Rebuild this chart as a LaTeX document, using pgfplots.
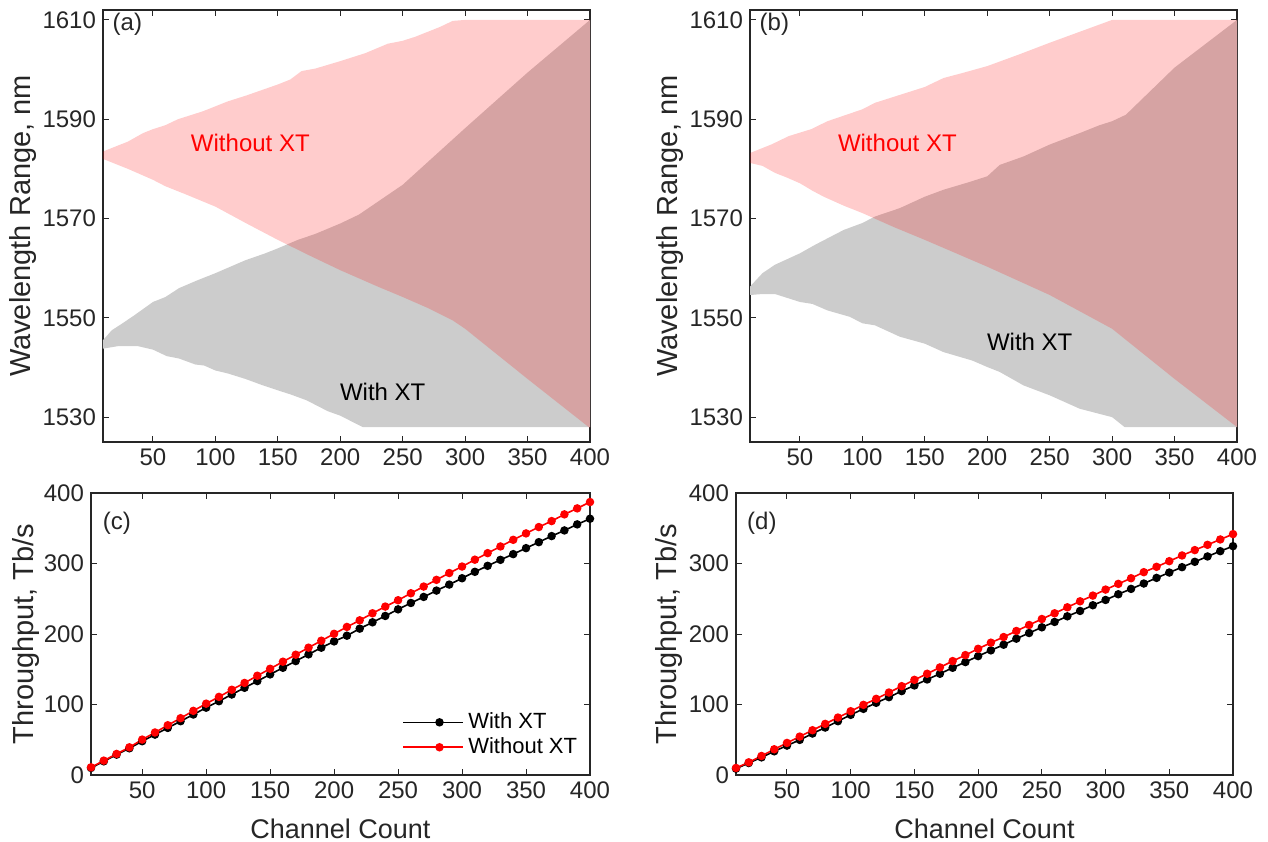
\documentclass[border=0pt]{standalone}
\usepackage{fontspec}
\setmainfont{Liberation Sans}
\usepackage{pgfplots}
\pgfplotsset{compat=1.18}

\definecolor{axgray}{HTML}{262626}
\definecolor{xtgray}{HTML}{CCCCCC}

\pgfplotsset{
  panel/.style={
    scale only axis, anchor=south west,
    xmin=10, xmax=400, xtick={50,100,...,400},
    tick align=inside, major tick length=3pt,
    ticklabel style={font=\fontsize{12}{14}\selectfont, text=axgray},
    xlabel style={font=\fontsize{13.5}{15}\selectfont, text=axgray},
    ylabel style={font=\fontsize{14.5}{16}\selectfont, text=axgray},
    /pgf/number format/assume math mode=true,
    /pgf/number format/1000 sep={},
    axis line style={axgray, line width=0.6pt},
    every tick/.style={axgray, line width=0.5pt},
  },
  tput/.style={
    panel, ymin=0, ymax=400, ytick={0,100,...,400},
    xlabel={Channel Count},
    xlabel style={at={(axis description cs:0.5,-0.19)}, anchor=center},
    ylabel={Throughput, Tb/s},
  },
  wl/.style={
    panel, ymin=1525, ymax=1612, ytick={1530,1550,...,1610},
    ylabel={Wavelength Range, nm},
    ylabel style={at={(axis description cs:-0.164,0.5)}, anchor=center},
  },
  withxt/.style={black, line width=0.8pt, mark=*, mark size=1.7pt},
  woxt/.style={red, line width=0.8pt, mark=*, mark size=1.7pt, mark options={fill=red}},
}

\begin{document}
\begin{tikzpicture}
\useasboundingbox (0,0) rectangle (634pt,420.5pt);

% (a)
\begin{axis}[wl, at={(51.5pt,199.5pt)}, width=243.5pt, height=216pt]
\addplot[fill=xtgray, draw=none] coordinates {
 (10,1545.5) (17,1547.5) (25,1548.8) (35,1550.5) (50,1553.2) (60,1554.2) (71,1556) (85,1557.5)
 (100,1559) (112,1560.3) (124,1561.6) (140,1563) (150,1564) (166,1565.7) (180,1566.9) (200,1569)
 (215,1570.8) (222,1572) (250,1576.8) (300,1588.2) (350,1599.4) (400,1610)
 (400,1528) (218,1528) (200,1530.3) (190,1531.2) (173,1533.4) (160,1534.6) (150,1535.4) (137,1536.5)
 (124,1537.7) (110,1538.8) (100,1539.4) (91,1540.4) (84,1540.6) (71,1541.8) (61,1542.3) (50,1543.6)
 (38,1544.3) (22,1544.3) (10,1543.8)} --cycle;
\addplot[fill=red, fill opacity=0.2, draw=none] coordinates {
 (10,1583.5) (20,1584.5) (30,1585.5) (42,1587.2) (50,1588) (60,1588.8) (70,1590) (80,1590.8)
 (90,1591.6) (100,1592.6) (110,1593.6) (125,1594.8) (150,1597) (160,1598) (169,1599.7) (180,1600.2)
 (200,1601.7) (220,1603.3) (238,1605.2) (250,1605.8) (260,1606.6) (280,1608.6) (290,1609.8) (300,1610) (400,1610)
 (400,1527.8) (350,1537.7) (300,1547.8) (290,1549.5) (270,1552) (250,1554.2) (230,1556.3) (200,1559.6)
 (175,1562.6) (150,1565.7) (125,1569) (100,1572.4) (75,1575) (60,1576.5) (50,1577.8) (30,1580)
 (20,1581) (10,1582)} --cycle;
\node[font=\fontsize{12}{14}\selectfont, text=axgray] at (rel axis cs:0.05,0.968) {(a)};
\node[font=\fontsize{12}{14}\selectfont, text=red] at (axis cs:128,1585.2) {Without XT};
\node[font=\fontsize{12}{14}\selectfont, text=black] at (axis cs:234,1535.1) {With XT};
\end{axis}

% (b)
\begin{axis}[wl, at={(375pt,199.5pt)}, width=243.5pt, height=216pt]
\addplot[fill=xtgray, draw=none] coordinates {
 (10,1556.3) (20,1559) (30,1560.7) (50,1563) (62,1564.7) (85,1567.7) (100,1569.1) (110,1570.4)
 (130,1572.1) (150,1574.4) (165,1575.8) (185,1577.3) (200,1578.5) (210,1580.8) (229,1582.5) (250,1584.9)
 (274,1587.2) (290,1588.8) (300,1589.6) (311,1590.9) (350,1600.4) (400,1610)
 (400,1528) (310,1528) (300,1530) (274,1531.7) (250,1534.4) (229,1536.4) (210,1539.1) (200,1540.1)
 (188,1541.4) (165,1543.1) (150,1544.8) (130,1546.2) (110,1548.5) (100,1548.9) (90,1550.2) (72,1551.5)
 (60,1552.8) (50,1553.2) (30,1554.8) (20,1554.8) (10,1554.6)} --cycle;
\addplot[fill=red, fill opacity=0.2, draw=none] coordinates {
 (10,1583.2) (20,1584.2) (27,1584.9) (41,1586.6) (59,1588) (72,1589.6) (86,1590.8) (100,1592)
 (110,1593.3) (130,1594.9) (150,1596.5) (165,1598.3) (180,1599.3) (200,1600.7) (225,1603) (250,1605.4)
 (275,1607.7) (300,1610) (400,1610)
 (400,1528) (350,1537.7) (300,1547.8) (250,1554.6) (200,1560.3) (150,1565.7) (125,1568.3) (100,1571.1)
 (85,1572.6) (69,1574.4) (60,1575.6) (50,1577.1) (40,1578.2) (30,1579.2) (20,1580.6) (10,1581.2)} --cycle;
\node[font=\fontsize{12}{14}\selectfont, text=axgray] at (rel axis cs:0.05,0.968) {(b)};
\node[font=\fontsize{12}{14}\selectfont, text=red] at (axis cs:128,1585.2) {Without XT};
\node[font=\fontsize{12}{14}\selectfont, text=black] at (axis cs:234,1545.1) {With XT};
\end{axis}

% (c)
\begin{axis}[tput, at={(45.5pt,33pt)}, width=249.5pt, height=141pt,
  ylabel style={at={(axis description cs:-0.13,0.5)}, anchor=center},
  legend style={at={(0.995,0.035)}, anchor=south east, draw=none, fill=none,
    font=\fontsize{11}{13}\selectfont, row sep=-1pt},
  legend cell align=left,
  legend image code/.code={\draw[mark repeat=2, mark phase=2, #1] plot coordinates {(0pt,0pt) (18pt,0pt) (30pt,0pt)};}]
\addplot[withxt] coordinates {
 (10,10) (20,19.4) (30,28.9) (40,37.9) (50,47.9) (60,57.3) (70,66.8) (80,76.3) (90,85.8) (100,95.5)
 (110,104.7) (120,114.2) (130,123.7) (140,133.2) (150,142.7) (160,152.1) (170,161.6) (180,171.1) (190,180.6) (200,189.5)
 (210,197.6) (220,207.6) (230,216.6) (240,225.6) (250,235) (260,244) (270,252.6) (280,261.6) (290,270.1) (300,279.1)
 (310,288.2) (320,296.7) (330,305.2) (340,313.3) (350,321.8) (360,330.3) (370,338.9) (380,346.9) (390,355.5) (400,363.5)};
\addlegendentry{With XT}
\addplot[woxt] coordinates {
 (10,10.9) (20,20.4) (30,29.9) (40,39.3) (50,50.2) (60,60.3) (70,70.6) (80,80.6) (90,91) (100,101.2)
 (110,110.8) (120,120.9) (130,130.6) (140,140.8) (150,150.7) (160,160.7) (170,170.6) (180,180.6) (190,190.5) (200,200.3)
 (210,210) (220,219.4) (230,229.4) (240,238.9) (250,247.9) (260,257.8) (270,267.3) (280,276.8) (290,286.5) (300,295.7)
 (310,305.4) (320,314.7) (330,324.2) (340,333.6) (350,342.7) (360,351.7) (370,360.2) (380,369.7) (390,378.2) (400,387.2)};
\addlegendentry{Without XT}
\node[font=\fontsize{12}{14}\selectfont, text=axgray] at (rel axis cs:0.052,0.894) {(c)};
\end{axis}

% (d)
\begin{axis}[tput, at={(368pt,33pt)}, width=248.5pt, height=141pt,
  ylabel style={at={(axis description cs:-0.135,0.5)}, anchor=center}]
\addplot[withxt] coordinates {
 (10,9) (20,17) (30,25) (40,33.6) (50,41.7) (60,49.8) (70,58.8) (80,67.3) (90,76.3) (100,85.3)
 (110,93.8) (120,102.4) (130,110.4) (140,119) (150,127) (160,135.5) (170,143.6) (180,152.1) (190,160.2) (200,168.6)
 (210,176.8) (220,184.8) (230,193.4) (240,201.4) (250,209.5) (260,217.1) (270,225.1) (280,232.7) (290,240.8) (300,248.3)
 (310,256.4) (320,264) (330,271.6) (340,279.6) (350,287.2) (360,294.8) (370,302.4) (380,310) (390,317.5) (400,324.6)};
\addplot[woxt] coordinates {
 (10,10) (20,18) (30,27) (40,36.5) (50,45.5) (60,54.5) (70,63.5) (80,72.5) (90,81.5) (100,90.5)
 (110,99.5) (120,108) (130,117) (140,126) (150,135) (160,143.6) (170,152.6) (180,161.6) (190,170.1) (200,179)
 (210,187.7) (220,195.7) (230,204.3) (240,212.8) (250,221.3) (260,229.4) (270,237.9) (280,246.4) (290,254.5) (300,263)
 (310,271.1) (320,279.1) (330,287.7) (340,295.3) (350,303.3) (360,311.4) (370,319) (380,326.5) (390,334.1) (400,341.7)};
\node[font=\fontsize{12}{14}\selectfont, text=axgray] at (rel axis cs:0.052,0.894) {(d)};
\end{axis}
\end{tikzpicture}
\end{document}
